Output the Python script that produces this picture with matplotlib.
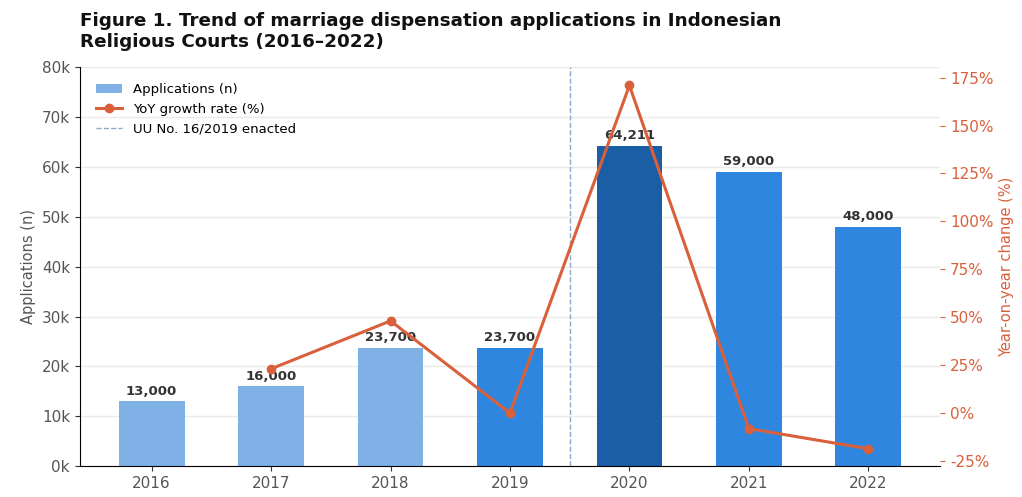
import numpy as np
import matplotlib.pyplot as plt
from matplotlib.ticker import FuncFormatter

years = ['2016', '2017', '2018', '2019', '2020', '2021', '2022']
applications = [13000, 16000, 23700, 23700, 64211, 59000, 48000]
# YoY growth, no value for the first year
yoy_growth = [None, 23.1, 48.1, 0.0, 170.9, -8.1, -18.6]

LIGHT = '#7fb1e6'
MID = '#2f86de'
DARK = '#1a5ea6'
LINE = '#d9603b'
bar_colors = [LIGHT, LIGHT, LIGHT, MID, DARK, MID, MID]

fig, ax = plt.subplots(figsize=(10.22, 4.97), dpi=100)
fig.subplots_adjust(left=0.078, right=0.92, top=0.865, bottom=0.062)

x = np.arange(len(years))
bars = ax.bar(x, applications, width=0.55, color=bar_colors, zorder=2,
              label='Applications (n)')
for xi, v in zip(x, applications):
    ax.text(xi, v + 700, f'{v:,}', ha='center', va='bottom', fontsize=9.5,
            fontweight='bold', color='#333333', zorder=3)

ax.set_ylim(0, 80000)
ax.set_yticks(np.arange(0, 80001, 10000))
ax.yaxis.set_major_formatter(FuncFormatter(lambda v, _: f'{int(v / 1000)}k'))
ax.set_xticks(x)
ax.set_xticklabels(years)
ax.tick_params(axis='both', colors='#555555', labelsize=11)
ax.tick_params(axis='both', color='#333333')
ax.set_ylabel('Applications (n)', color='#555555', fontsize=10.5)
ax.grid(axis='y', color='#eaeaea', linewidth=1, zorder=0)
ax.set_axisbelow(True)
for side in ['top', 'right']:
    ax.spines[side].set_visible(False)

vline = ax.axvline(3.5, color='#8fa8c8', linestyle='--', linewidth=1,
                   label='UU No. 16/2019 enacted', zorder=1)

ax2 = ax.twinx()
gx = [xi for xi, g in zip(x, yoy_growth) if g is not None]
gy = [g for g in yoy_growth if g is not None]
line, = ax2.plot(gx, gy, color=LINE, linewidth=2.2, marker='o', markersize=6,
                 label='YoY growth rate (%)', zorder=4)
ax2.set_ylim(-27.7, 180.5)
ax2.set_yticks(np.arange(-25, 176, 25))
ax2.yaxis.set_major_formatter(FuncFormatter(lambda v, _: f'{int(v)}%'))
ax2.tick_params(axis='y', colors=LINE, labelsize=11)
ax2.set_ylabel('Year-on-year change (%)', color=LINE, fontsize=10.5)
for side in ['top', 'right', 'left', 'bottom']:
    ax2.spines[side].set_visible(False)

ax.legend([bars, line, vline],
          ['Applications (n)', 'YoY growth rate (%)', 'UU No. 16/2019 enacted'],
          loc='upper left', frameon=False, fontsize=9.5,
          bbox_to_anchor=(0.005, 0.99))

fig.text(0.078, 0.975, 'Figure 1. Trend of marriage dispensation applications in Indonesian\n'
         'Religious Courts (2016\u20132022)', ha='left', va='top', fontsize=13.2,
         fontweight='bold', color='#111111', linespacing=1.2)

fig.savefig('out.png', dpi=100)
